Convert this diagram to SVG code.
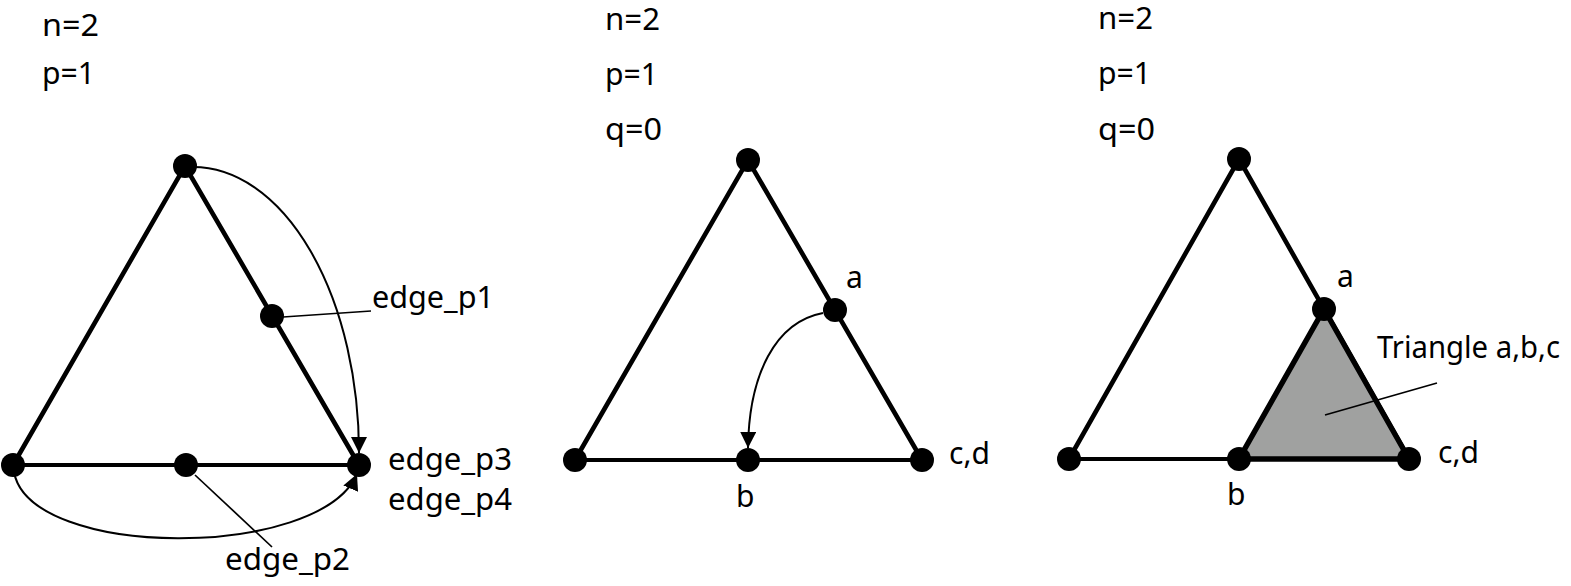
<svg xmlns="http://www.w3.org/2000/svg" width="1571" height="586" viewBox="0 0 1571 586">
<style>
  text { font-family: "Noto Sans", "Open Sans", sans-serif; font-size: 30px; fill: #000; }
  .edge { stroke: #000; stroke-width: 4.6; fill: none; stroke-linecap: round; }
  .base { stroke: #000; stroke-width: 3.8; fill: none; }
  .node { fill: #000; }
  .conn { stroke: #000; stroke-width: 2; fill: none; }
  .lead { stroke: #000; stroke-width: 1.7; fill: none; }
</style>
<defs>
  <marker id="arrow" markerUnits="userSpaceOnUse" markerWidth="17" markerHeight="16" refX="16" refY="8" orient="auto">
    <path d="M0,0 L16,8 L0,16 z" fill="#000"/>
  </marker>
</defs>
<rect width="1571" height="586" fill="#fff"/>

<g id="panel1-labels">
  <text x="42" y="36" textLength="57" lengthAdjust="spacingAndGlyphs">n=2</text>
  <text x="42" y="84" textLength="53" lengthAdjust="spacingAndGlyphs">p=1</text>
</g>
<g id="panel1-triangle">
  <path class="edge" d="M13,465 L185,166 L359,465"/>
  <path class="base" d="M13,465 L359,465"/>
</g>

<g id="panel2-labels">
  <text x="605" y="30" textLength="55" lengthAdjust="spacingAndGlyphs">n=2</text>
  <text x="605" y="85" textLength="53" lengthAdjust="spacingAndGlyphs">p=1</text>
  <text x="605" y="140" textLength="57" lengthAdjust="spacingAndGlyphs">q=0</text>
</g>
<g id="panel2-triangle">
  <path class="edge" d="M575,460 L748,160 L922,460"/>
  <path class="base" d="M575,460 L922,460"/>
</g>

<g id="panel3-labels">
  <text x="1098" y="29" textLength="55" lengthAdjust="spacingAndGlyphs">n=2</text>
  <text x="1098" y="84" textLength="53" lengthAdjust="spacingAndGlyphs">p=1</text>
  <text x="1098" y="140" textLength="57" lengthAdjust="spacingAndGlyphs">q=0</text>
</g>
<g id="panel3-triangle">
  <path class="edge" d="M1069,459 L1239,159 L1409,459"/>
  <path class="base" d="M1069,459 L1409,459"/>
</g>
<g id="triangle-abc">
  <polygon points="1324,309 1239,459 1409,459" fill="#a0a1a0" stroke="#000" stroke-width="5.5" stroke-linejoin="round"/>
  <text x="1377" y="358" textLength="183" lengthAdjust="spacingAndGlyphs">Triangle a,b,c</text>
</g>

<g id="connectors">
  <path class="conn" d="M193,167 A166,286 0 0 1 359,453" marker-end="url(#arrow)"/>
  <path class="conn" d="M14,472 C 30,560 320,560 357,474" marker-end="url(#arrow)"/>
  <path class="lead" d="M283,317 L371,311"/>
  <path class="lead" d="M195,475 L272,547"/>
  <path class="conn" d="M823,313 C 775,322 749,375 748,448" marker-end="url(#arrow)"/>
  <path class="lead" d="M1437,383 L1325,415"/>
</g>

<g id="node-p1-top"><circle class="node" cx="185" cy="166" r="12"/></g>
<g id="node-edge_p1"><circle class="node" cx="272" cy="316" r="12"/><text x="372" y="308" textLength="122" lengthAdjust="spacingAndGlyphs">edge_p1</text></g>
<g id="node-p1-left"><circle class="node" cx="13" cy="465" r="12"/></g>
<g id="node-edge_p2"><circle class="node" cx="186" cy="465" r="12"/><text x="225" y="570" textLength="125" lengthAdjust="spacingAndGlyphs">edge_p2</text></g>
<g id="node-edge_p3"><circle class="node" cx="359" cy="465" r="12"/>
  <text x="388" y="470" textLength="124" lengthAdjust="spacingAndGlyphs">edge_p3</text>
  <text x="388" y="510" textLength="124" lengthAdjust="spacingAndGlyphs">edge_p4</text>
</g>

<g id="node-p2-top"><circle class="node" cx="748" cy="160" r="12"/></g>
<g id="node-p2-a"><circle class="node" cx="835" cy="310" r="12"/><text x="846" y="288">a</text></g>
<g id="node-p2-left"><circle class="node" cx="575" cy="460" r="12"/></g>
<g id="node-p2-b"><circle class="node" cx="748" cy="460" r="12"/><text x="736" y="507">b</text></g>
<g id="node-p2-cd"><circle class="node" cx="922" cy="460" r="12"/><text x="949" y="464">c,d</text></g>

<g id="node-p3-top"><circle class="node" cx="1239" cy="159" r="12"/></g>
<g id="node-p3-a"><circle class="node" cx="1324" cy="309" r="12"/><text x="1337" y="287">a</text></g>
<g id="node-p3-left"><circle class="node" cx="1069" cy="459" r="12"/></g>
<g id="node-p3-b"><circle class="node" cx="1239" cy="459" r="12"/><text x="1227" y="505">b</text></g>
<g id="node-p3-cd"><circle class="node" cx="1409" cy="459" r="12"/><text x="1438" y="463">c,d</text></g>
</svg>
